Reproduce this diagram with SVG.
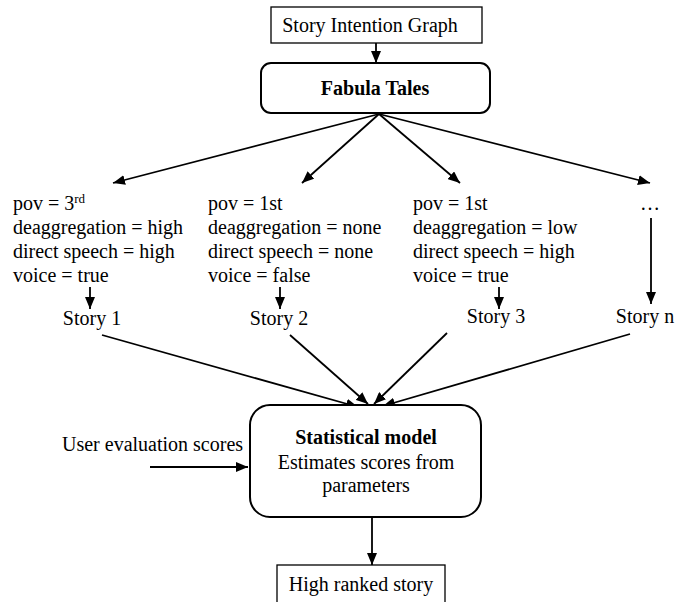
<svg xmlns="http://www.w3.org/2000/svg" width="675" height="602" viewBox="0 0 675 602">
  <defs>
    <marker id="arrow" viewBox="0 0 12 10" refX="12" refY="5" markerWidth="12" markerHeight="10" markerUnits="userSpaceOnUse" orient="auto">
      <path d="M0,0 L12,5 L0,10 z" fill="#000"/>
    </marker>
  </defs>
  <style>
    text { font-family: "Liberation Serif", "Times New Roman", serif; font-size: 20px; fill: #000; }
    .b { font-weight: bold; }
    .c { text-anchor: middle; }
    .box { fill: #fff; stroke: #000; stroke-width: 1.3; }
    .rbox { fill: #fff; stroke: #000; stroke-width: 2; }
    .edge { fill: none; stroke: #000; stroke-width: 1.8; marker-end: url(#arrow); }
  </style>
  <rect width="675" height="602" fill="#fff"/>

  <g id="connectors">
    <line class="edge" x1="376" y1="43" x2="376" y2="63"/>
    <line class="edge" x1="379" y1="114" x2="113" y2="183"/>
    <line class="edge" x1="379" y1="114" x2="302" y2="183"/>
    <line class="edge" x1="379" y1="114" x2="460" y2="183"/>
    <line class="edge" x1="379" y1="114" x2="650" y2="183"/>
    <line class="edge" x1="90" y1="287" x2="90" y2="309"/>
    <line class="edge" x1="280" y1="287" x2="280" y2="309"/>
    <line class="edge" x1="499" y1="287" x2="499" y2="309"/>
    <line class="edge" x1="651" y1="218" x2="651" y2="304"/>
    <line class="edge" x1="102" y1="335" x2="358" y2="407"/>
    <line class="edge" x1="290" y1="335" x2="368" y2="404"/>
    <line class="edge" x1="447" y1="333" x2="374" y2="404"/>
    <line class="edge" x1="630" y1="334" x2="383" y2="406"/>
    <line class="edge" x1="150" y1="467" x2="248" y2="467"/>
    <line class="edge" x1="372" y1="517" x2="372" y2="565"/>
  </g>

  <g id="story-intention-graph">
    <rect class="box" x="271" y="7" width="211" height="36"/>
    <text class="c" x="370" y="32">Story Intention Graph</text>
  </g>

  <g id="fabula-tales">
    <rect class="rbox" x="261" y="63" width="229" height="50" rx="10"/>
    <text class="c b" x="375" y="95">Fabula Tales</text>
  </g>

  <g id="params-1">
    <text x="13" y="210">pov = 3<tspan font-size="13" dy="-7">rd</tspan></text>
    <text x="13" y="234">deaggregation = high</text>
    <text x="13" y="258">direct speech = high</text>
    <text x="13" y="282">voice = true</text>
  </g>

  <g id="params-2">
    <text x="208" y="210">pov = 1st</text>
    <text x="208" y="234">deaggregation = none</text>
    <text x="208" y="258">direct speech = none</text>
    <text x="208" y="282">voice = false</text>
  </g>

  <g id="params-3">
    <text x="413" y="210">pov = 1st</text>
    <text x="413" y="234">deaggregation = low</text>
    <text x="413" y="258">direct speech = high</text>
    <text x="413" y="282">voice = true</text>
  </g>

  <g id="params-n">
    <text class="c" x="650" y="210">…</text>
  </g>

  <g id="story-1"><text class="c" x="92" y="325">Story 1</text></g>
  <g id="story-2"><text class="c" x="279" y="325">Story 2</text></g>
  <g id="story-3"><text class="c" x="496" y="323">Story 3</text></g>
  <g id="story-n"><text class="c" x="645" y="323">Story n</text></g>

  <g id="user-evaluation">
    <text x="62" y="451">User evaluation scores</text>
  </g>

  <g id="statistical-model">
    <rect class="rbox" x="250" y="405" width="231" height="112" rx="20"/>
    <text class="c b" x="366" y="444">Statistical model</text>
    <text class="c" x="366" y="469">Estimates scores from</text>
    <text class="c" x="366" y="492">parameters</text>
  </g>

  <g id="high-ranked-story">
    <rect class="box" x="277" y="565" width="168" height="40"/>
    <text class="c" x="361" y="591">High ranked story</text>
  </g>
</svg>
